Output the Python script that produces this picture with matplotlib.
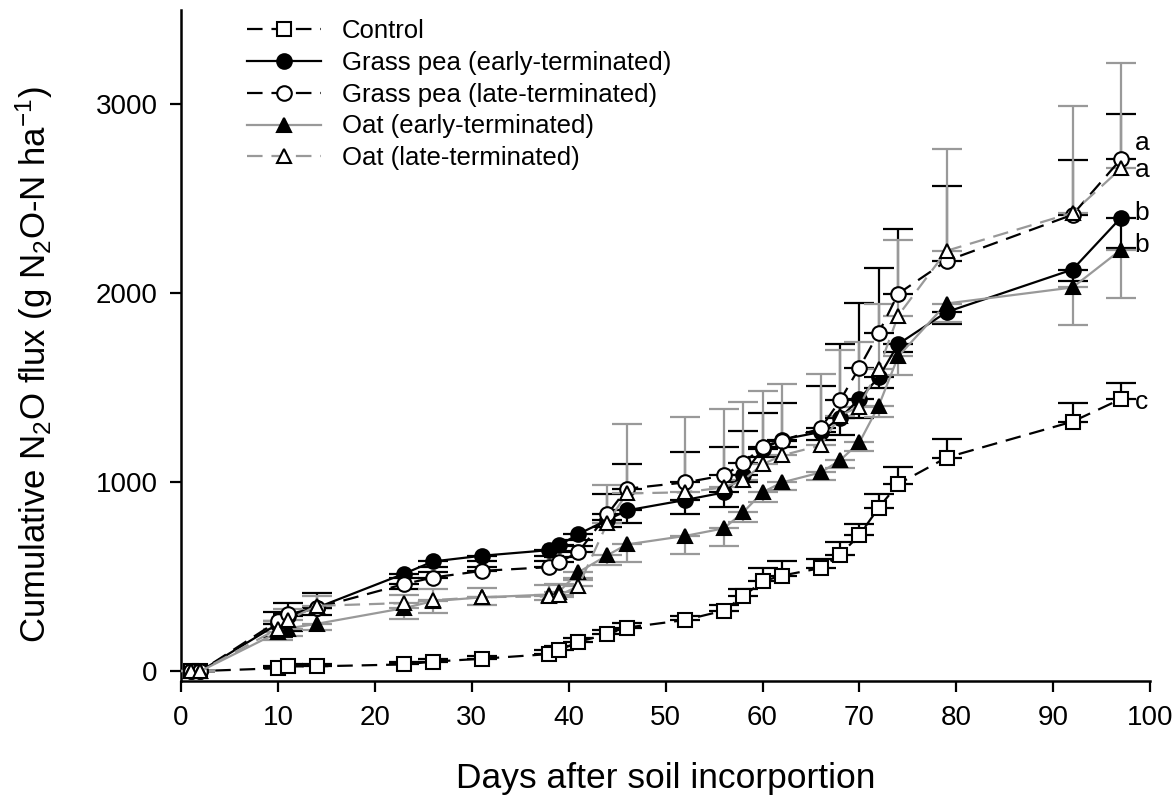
import numpy as np
import matplotlib
matplotlib.use("Agg")
import matplotlib.pyplot as plt

plt.rcParams['font.family'] = ['Liberation Sans', 'DejaVu Sans']
plt.rcParams['mathtext.default'] = 'regular'

# sampling days (days after soil incorporation)
days = [1, 2, 10, 11, 14, 23, 26, 31, 38, 39, 41, 44, 46, 52, 56, 58, 60, 62,
        66, 68, 70, 72, 74, 79, 92, 97]

# cumulative N2O flux (g N2O-N ha-1)
control = [0, 0, 15, 25, 25, 35, 50, 65, 90, 110, 155, 195, 230, 270, 320, 395,
           475, 505, 545, 615, 720, 865, 990, 1130, 1320, 1440]
gp_early = [0, 0, 250, 290, 335, 515, 580, 610, 640, 665, 725, 800, 850, 905,
            945, 1040, 1175, 1225, 1265, 1340, 1440, 1555, 1730, 1900, 2125, 2400]
gp_late = [0, 0, 265, 300, 335, 460, 495, 530, 550, 575, 630, 830, 965, 998,
           1035, 1099, 1188, 1220, 1284, 1432, 1606, 1791, 1997, 2171, 2415, 2710]
oat_early = [0, 0, 205, 225, 250, 333, 370, 390, 405, 420, 523, 613, 670, 715,
             755, 840, 946, 998, 1051, 1115, 1210, 1405, 1665, 1945, 2030, 2230]
oat_late = [0, 0, 225, 270, 345, 360, 375, 391, 395, 400, 450, 785, 940, 946,
            972, 1009, 1094, 1141, 1194, 1352, 1400, 1601, 1881, 2224, 2425, 2660]

# one-sided standard errors (upper for control and late, lower for early)
control_err = [0, 0, 10, 10, 10, 15, 15, 15, 20, 20, 20, 20, 25, 20, 30, 40,
               70, 80, 50, 70, 60, 70, 90, 100, 100, 85]
gp_early_err = [0, 0, 70, 80, 40, 80, 30, 30, 30, 30, 30, 40, 68, 74, 79, 40,
                40, 40, 40, 90, 100, 58, 40, 62, 60, 160]
gp_late_err = [0, 0, 50, 60, 80, 30, 30, 20, 30, 30, 30, 105, 130, 160, 153, 174,
               180, 200, 227, 300, 343, 343, 343, 396, 290, 240]
oat_early_err = [0, 0, 40, 40, 35, 55, 65, 40, 30, 30, 40, 50, 95, 95, 95, 53,
                 50, 40, 40, 40, 43, 63, 100, 100, 200, 255]
oat_late_err = [0, 0, 40, 60, 50, 40, 60, 50, 60, 60, 40, 200, 370, 400, 417, 417,
                390, 380, 380, 345, 340, 340, 400, 540, 565, 560]

letters = ['a', 'a', 'b', 'b', 'c']
letter_y = [2795, 2650, 2425, 2255, 1425]

grey = '#999999'
zero = [0] * len(days)

fig = plt.figure(figsize=(11.76, 8.06), dpi=100)
ax = fig.add_axes([0.154, 0.155, 0.824, 0.833])

series = [
    ("Control", control, control_err, 'upper', 's', 'white', 'black', (0, (7, 4))),
    ("Grass pea (early-terminated)", gp_early, gp_early_err, 'lower', 'o', 'black', 'black', '-'),
    ("Grass pea (late-terminated)", gp_late, gp_late_err, 'upper', 'o', 'white', 'black', (0, (7, 4))),
    ("Oat (early-terminated)", oat_early, oat_early_err, 'lower', '^', 'black', grey, '-'),
    ("Oat (late-terminated)", oat_late, oat_late_err, 'upper', '^', 'white', grey, (0, (7, 4))),
]

for i, (name, vals, err, side, mk, face, col, ls) in enumerate(series):
    yerr = [zero, err] if side == 'upper' else [err, zero]
    ax.errorbar(days, vals, yerr=yerr, fmt='none', ecolor=col, elinewidth=1.6,
                capsize=11, capthick=1.6, zorder=2 + i)
    ax.plot(days, vals, linestyle=ls, color=col, linewidth=1.6, marker=mk,
            markersize=10.5, markerfacecolor=face, markeredgecolor='black',
            markeredgewidth=1.5, label=name, zorder=10 + i)

for lt, ly in zip(letters, letter_y):
    ax.text(98.4, ly, lt, fontsize=19, ha='left', va='center')

ax.set_xlim(0, 100)
ax.set_ylim(-53, 3500)
ax.set_xticks(np.arange(0, 101, 10))
ax.set_yticks([0, 1000, 2000, 3000])
ax.spines['top'].set_visible(False)
ax.spines['right'].set_visible(False)
for s in ['left', 'bottom']:
    ax.spines[s].set_linewidth(1.8)
ax.tick_params(direction='out', length=8, width=1.6, labelsize=20, pad=9)

ax.set_xlabel("Days after soil incorportion", fontsize=25.5)
ax.set_ylabel("Cumulative N$_2$O flux (g N$_2$O-N ha$^{-1}$)", fontsize=25)
ax.xaxis.set_label_coords(0.5, -0.12)
ax.yaxis.set_label_coords(-0.13, 0.472)

ax.legend(loc='upper left', bbox_to_anchor=(0.044, 1.02), frameon=False,
          fontsize=18.5, handlelength=2.9, labelspacing=0.3, handletextpad=0.8)

fig.savefig("out.png", dpi=100)
